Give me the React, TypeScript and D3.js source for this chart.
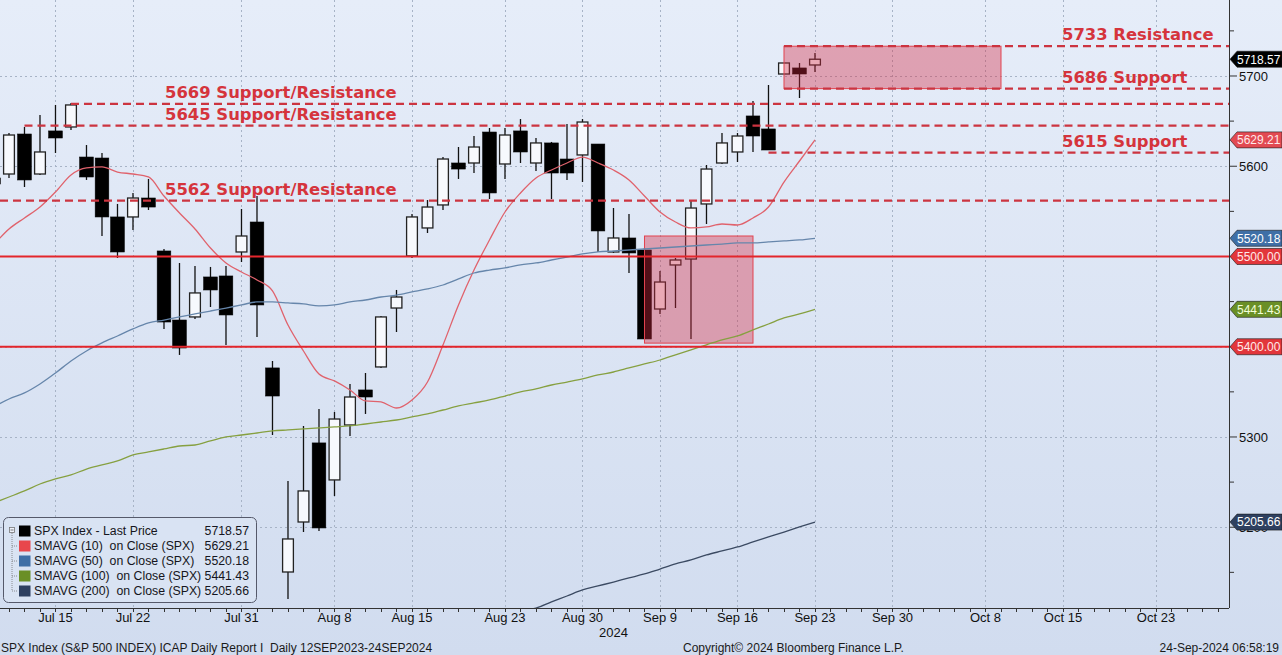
import React from "react";
import * as d3 from "d3";

// ---------- DATA ----------
const candleDates = [
  "2024-07-09","2024-07-10","2024-07-11","2024-07-12","2024-07-15","2024-07-16","2024-07-17","2024-07-18","2024-07-19",
  "2024-07-22","2024-07-23","2024-07-24","2024-07-25","2024-07-26","2024-07-29","2024-07-30","2024-07-31",
  "2024-08-01","2024-08-02","2024-08-05","2024-08-06","2024-08-07","2024-08-08","2024-08-09","2024-08-12",
  "2024-08-13","2024-08-14","2024-08-15","2024-08-16","2024-08-19","2024-08-20","2024-08-21","2024-08-22",
  "2024-08-23","2024-08-26","2024-08-27","2024-08-28","2024-08-29","2024-08-30","2024-09-03","2024-09-04",
  "2024-09-05","2024-09-06","2024-09-09","2024-09-10","2024-09-11","2024-09-12","2024-09-13","2024-09-16",
  "2024-09-17","2024-09-18","2024-09-19","2024-09-20","2024-09-23",
];
const opens = [
  5587.0,5591.4,5635.7,5591.4,5639.1,5643.5,5610.2,5609.1,5543.8,5543.8,5564.8,5506.1,5429.6,5433.0,5477.3,5478.4,5505.0,
  5538.2,5376.5,5150.4,5205.8,5293.4,5252.4,5313.3,5352.1,5377.6,5442.9,5500.6,5531.6,5557.1,5603.6,5603.6,5637.9,
  5602.5,5639.1,5603.6,5625.8,5608.0,5612.5,5624.6,5505.0,5520.5,5507.2,5441.8,5490.6,5497.2,5558.2,5603.6,5615.8,
  5655.7,5641.3,5702.2,5708.9,5712.2,
];
const highs = [
  5590.3,5636.8,5643.5,5656.8,5667.9,5670.1,5623.5,5614.7,5558.2,5570.4,5585.9,5508.3,5492.8,5489.5,5488.4,5489.5,5552.6,
  5567.0,5384.2,5251.2,5312.2,5331.0,5327.7,5358.7,5370.9,5434.1,5462.9,5547.1,5562.6,5610.2,5621.3,5633.5,5642.4,
  5642.4,5652.3,5631.3,5626.9,5646.8,5652.3,5624.6,5553.7,5547.1,5509.4,5483.9,5498.3,5561.5,5601.4,5636.8,5636.8,
  5672.3,5690.0,5714.4,5714.4,5725.5,
];
const lows = [
  5577.0,5587.0,5577.0,5590.3,5614.7,5640.2,5584.8,5522.7,5498.3,5529.4,5551.5,5419.7,5390.9,5430.7,5444.0,5401.9,5493.9,
  5410.8,5302.2,5120.5,5194.7,5195.9,5234.6,5301.1,5325.5,5376.5,5416.3,5498.3,5526.0,5551.5,5585.9,5592.5,5563.7,
  5585.9,5603.6,5594.7,5563.7,5584.8,5582.5,5505.0,5503.9,5481.7,5408.6,5436.3,5442.9,5408.6,5536.0,5602.5,5604.7,
  5615.8,5618.0,5702.2,5675.6,5704.4,
];
const closes = [
  5580.3,5634.6,5584.8,5615.8,5631.3,5667.9,5588.1,5543.8,5505.0,5564.8,5554.8,5427.4,5398.6,5459.6,5462.9,5435.2,5522.7,
  5446.3,5345.4,5187.0,5240.2,5199.2,5319.9,5344.3,5344.3,5433.0,5455.1,5543.8,5554.8,5608.0,5596.9,5621.3,5570.4,
  5634.6,5615.8,5625.8,5592.5,5592.5,5649.0,5528.3,5520.5,5503.9,5408.6,5471.7,5496.1,5553.7,5596.9,5625.8,5633.5,
  5633.5,5618.0,5714.4,5702.2,5718.57,
];
const sma10 = [
  5512.7,5530.5,5542.7,5554.8,5571.5,5590.3,5598.1,5599.2,5593.6,5591.4,5588.1,5567.0,5548.2,5530.5,5509.4,5492.8,5482.8,
  5474.0,5461.8,5424.1,5395.3,5369.8,5362.1,5352.1,5339.9,5338.8,5332.1,5341.0,5360.9,5401.9,5446.3,5485.0,5518.3,
  5549.3,5570.4,5587.0,5595.8,5603.6,5610.2,5603.6,5595.8,5584.8,5567.0,5549.3,5538.2,5531.6,5532.7,5536.0,5534.9,
  5542.7,5554.8,5582.5,5605.8,5629.21,
];
const sma50 = [
  5333.2,5342.1,5348.8,5358.7,5370.9,5384.2,5395.3,5404.2,5411.9,5419.7,5426.3,5429.6,5433.0,5436.3,5439.6,5442.9,5446.3,
  5449.6,5449.6,5448.5,5447.4,5445.2,5446.3,5449.6,5451.8,5455.1,5457.3,5460.7,5464.0,5468.4,5475.1,5481.7,5485.0,
  5487.3,5490.6,5492.8,5496.1,5499.4,5502.8,5505.0,5506.1,5507.2,5508.3,5509.4,5510.5,5511.6,5512.7,5513.8,5515.0,
  5515.0,5516.1,5517.2,5518.3,5520.18,
];
const sma100 = [
  5226.9,5233.5,5240.2,5247.9,5253.5,5257.9,5264.5,5269.0,5273.4,5280.1,5283.4,5286.7,5290.0,5291.1,5295.6,5300.0,5302.2,
  5304.4,5306.7,5307.8,5308.9,5310.0,5311.1,5312.2,5314.4,5316.6,5318.8,5322.2,5325.5,5329.9,5334.4,5337.7,5341.0,
  5345.4,5349.9,5353.2,5357.6,5360.9,5364.3,5368.7,5372.0,5376.5,5380.9,5385.3,5391.0,5396.6,5402.1,5407.7,5411.9,
  5418.6,5425.2,5431.9,5436.3,5441.43,
];
const sma200Start = "2024-08-19";
const sma200 = [
  5088.4,5091.7,5095.0,5099.5,5102.8,5107.2,5110.5,5117.2,5123.8,5130.5,5134.9,5139.3,5143.8,5148.2,5153.7,5159.3,5163.7,
  5169.3,5173.7,5178.1,5183.7,5189.2,5194.7,5200.3,5205.66,
];
const holidays = ["2024-09-02"];
const tickDates = [
  "2024-07-15","2024-07-22","2024-07-31","2024-08-08","2024-08-15","2024-08-23","2024-08-30",
  "2024-09-09","2024-09-16","2024-09-23","2024-09-30","2024-10-08","2024-10-15","2024-10-23",
];
const yearLabel = "2024";
const yearLabelDate = "2024-09-04";
const yMajorTicks = [5200, 5300, 5400, 5500, 5600, 5700];
const yMinorTicks = [5150, 5250, 5350, 5450, 5550, 5650, 5750];
const solidLevels = [5500, 5400];
const dashedLevels = [5733, 5686, 5669, 5645, 5615, 5562];
const dashedStarts = ["2024-09-19", "2024-09-19", "2024-07-16", "2024-07-11", "2024-09-18", null];
const annotations = [
  { value: 5733, text: "5733 Resistance", side: "right" },
  { value: 5686, text: "5686 Support", side: "right" },
  { value: 5669, text: "5669 Support/Resistance", side: "left" },
  { value: 5645, text: "5645 Support/Resistance", side: "left" },
  { value: 5615, text: "5615 Support", side: "right" },
  { value: 5562, text: "5562 Support/Resistance", side: "left" },
];
const zoneFrom = ["2024-09-19", "2024-09-06"];
const zoneTo = ["2024-10-09", "2024-09-17"];
const zoneHi = [5733, 5522.7];
const zoneLo = [5686, 5404];
const seriesNames = [
  "SPX Index - Last Price",
  "SMAVG (10)  on Close (SPX)",
  "SMAVG (50)  on Close (SPX)",
  "SMAVG (100)  on Close (SPX)",
  "SMAVG (200)  on Close (SPX)",
];
const seriesColors = ["#000000", "#e8474c", "#3f6fa6", "#6a8f26", "#2e4060"];
const lineColors = ["#000000", "#e0626c", "#6686ab", "#86a040", "#3b4a62"];
const footerLeft = "SPX Index (S&P 500 INDEX) ICAP Daily Report I  Daily 12SEP2023-24SEP2024";
const footerMid = "Copyright\u00A9 2024 Bloomberg Finance L.P.";
const footerRight = "24-Sep-2024 06:58:19";

// ---------- COMPONENT ----------
export default function App() {
  const W = 1282, H = 655;
  const plotR = 1229, plotB = 608;
  const parse = d3.timeParse("%Y-%m-%d");
  const fmt = d3.timeFormat("%Y-%m-%d");
  const label = d3.timeFormat("%b %-d");
  const calendar = d3.timeDay
    .range(parse("2024-07-09") as Date, parse("2024-11-05") as Date)
    .filter((d) => d.getDay() !== 0 && d.getDay() !== 6 && !holidays.includes(fmt(d)))
    .map((d) => fmt(d));
  const idx = (s: string) => calendar.indexOf(s);

  const x = d3.scaleLinear().domain([0.42, 79.71]).range([0, plotR]);
  const y = d3.scaleLinear().domain([5110.5, 5784.2]).range([plotB, 0]);
  const xd = (s: string) => x(idx(s));

  const line = d3
    .line<[number, number]>()
    .x((d) => x(d[0]))
    .y((d) => y(d[1]))
    .curve(d3.curveMonotoneX);

  const s200Start = idx(sma200Start);
  const lines = [
    sma10.map((v, i) => [idx(candleDates[i]), v] as [number, number]),
    sma50.map((v, i) => [idx(candleDates[i]), v] as [number, number]),
    sma100.map((v, i) => [idx(candleDates[i]), v] as [number, number]),
    sma200.map((v, i) => [s200Start + i, v] as [number, number]),
  ];

  const dayTicks = calendar.map((_, i) => i).filter((i) => x(i) >= 0 && x(i) <= plotR);

  const last = closes.length - 1;
  const badges = [
    { v: closes[last], c: "#000000", t: "#ffffff" },
    { v: sma10[last], c: "#e24a52", t: "#ffe9ea" },
    { v: sma50[last], c: "#3f6fa6", t: "#ffffff" },
    { v: solidLevels[0], c: "#e2363b", t: "#ffe9ea" },
    { v: sma100[last], c: "#6a8f26", t: "#f2ffd8" },
    { v: solidLevels[1], c: "#e2363b", t: "#ffe9ea" },
    { v: sma200[sma200.length - 1], c: "#2e4060", t: "#ffffff" },
  ];
  const legendValues = [closes[last], sma10[last], sma50[last], sma100[last], sma200[sma200.length - 1]];
  // tick labels fully hidden by a value badge are not drawn
  const visibleMajor = yMajorTicks.filter((v) => !badges.some((b) => Math.abs(y(b.v) - y(v)) < 3));

  const axisFont = "'Liberation Sans', Arial, sans-serif";
  const annFont = "'DejaVu Sans', Verdana, sans-serif";

  return (
    <svg
      width={W}
      height={H}
      viewBox={`0 0 ${W} ${H}`}
      style={{ position: "absolute", left: 0, top: 0, display: "block" }}
    >
      <defs>
        <linearGradient id="bg" x1="0" y1="0" x2="0" y2="1">
          <stop offset="0" stopColor="#e6edf9" />
          <stop offset="1" stopColor="#d1dcef" />
        </linearGradient>
        <clipPath id="plot">
          <rect x={0} y={0} width={plotR} height={plotB} />
        </clipPath>
      </defs>
      <rect x={0} y={0} width={W} height={H} fill="url(#bg)" />

      {/* grid */}
      <g stroke="#a7b3c6" strokeWidth={1} strokeDasharray="2 3">
        {yMajorTicks.map((v) => (
          <line key={v} x1={0} x2={plotR} y1={Math.round(y(v)) + 0.5} y2={Math.round(y(v)) + 0.5} />
        ))}
        {tickDates.map((d) => (
          <line key={d} x1={Math.round(xd(d)) + 0.5} x2={Math.round(xd(d)) + 0.5} y1={0} y2={plotB} />
        ))}
      </g>

      <g clipPath="url(#plot)">
        {/* candles */}
        {candleDates.map((d, i) => {
          const cx = xd(d);
          const up = closes[i] >= opens[i];
          const top = y(Math.max(opens[i], closes[i]));
          const bot = y(Math.min(opens[i], closes[i]));
          const bw = up ? 10.8 : 13.6;
          return (
            <g key={d}>
              <line x1={cx} x2={cx} y1={y(highs[i])} y2={y(lows[i])} stroke="#111" strokeWidth={1.3} />
              <rect
                x={cx - bw / 2}
                y={top}
                width={bw}
                height={Math.max(bot - top, 1.5)}
                fill={up ? "#f7f9fd" : "#000"}
                stroke={up ? "#222" : "#000"}
                strokeWidth={up ? 1.3 : 0.6}
              />
            </g>
          );
        })}

        {/* zones */}
        {zoneFrom.map((f, i) => (
          <rect
            key={f}
            x={xd(f)}
            y={y(zoneHi[i])}
            width={xd(zoneTo[i]) - xd(f)}
            height={y(zoneLo[i]) - y(zoneHi[i])}
            fill="rgb(212,40,62)"
            fillOpacity={0.38}
            stroke="#e2434f"
            strokeWidth={1}
          />
        ))}

        {/* moving averages */}
        {lines.map((pts, i) => (
          <path key={i} d={line(pts) || ""} fill="none" stroke={lineColors[i + 1]} strokeWidth={1.3} />
        ))}

        {/* solid levels */}
        {solidLevels.map((v) => (
          <line key={v} x1={0} x2={plotR} y1={y(v)} y2={y(v)} stroke="#e3262c" strokeWidth={2} />
        ))}

        {/* dashed levels */}
        {dashedLevels.map((v, i) => (
          <line
            key={v}
            x1={dashedStarts[i] ? xd(dashedStarts[i] as string) : 0}
            x2={plotR}
            y1={y(v)}
            y2={y(v)}
            stroke="#cc3440"
            strokeWidth={2.2}
            strokeDasharray="8 5"
          />
        ))}
      </g>

      {/* annotations */}
      {annotations.map((a) => (
        <text
          key={a.text}
          x={a.side === "left" ? 165 : 1062}
          y={y(a.value) - 6}
          fontFamily={annFont}
          fontWeight="bold"
          fontSize={16.4}
          fill="#d5343c"
        >
          {a.text}
        </text>
      ))}

      {/* axes */}
      <line x1={0} x2={plotR} y1={plotB + 0.5} y2={plotB + 0.5} stroke="#333" strokeWidth={1} />
      <line x1={plotR + 0.5} x2={plotR + 0.5} y1={0} y2={plotB} stroke="#333" strokeWidth={1} />
      {dayTicks.map((i) => (
        <line key={i} x1={Math.round(x(i)) + 0.5} x2={Math.round(x(i)) + 0.5} y1={plotB} y2={plotB + 4} stroke="#333" strokeWidth={1} />
      ))}
      {tickDates.map((d) => (
        <text key={d} x={xd(d)} y={622} textAnchor="middle" fontFamily={axisFont} fontSize={13} fill="#111">
          {label(parse(d) as Date)}
        </text>
      ))}
      <text x={xd(yearLabelDate)} y={637} textAnchor="middle" fontFamily={axisFont} fontSize={13} fill="#111">
        {yearLabel}
      </text>

      {yMinorTicks.map((v) => (
        <line key={v} x1={plotR} x2={plotR + 5} y1={y(v)} y2={y(v)} stroke="#333" strokeWidth={1} />
      ))}
      {yMajorTicks.map((v) => (
        <line key={v} x1={plotR} x2={plotR + 8} y1={y(v)} y2={y(v)} stroke="#333" strokeWidth={1} />
      ))}
      {visibleMajor.map((v) => (
        <text key={v} x={1239} y={y(v)} dy="0.35em" fontFamily={axisFont} fontSize={13} fill="#111">
          {v}
        </text>
      ))}

      {/* value badges */}
      {badges.map((b, i) => {
        const yy = y(b.v);
        const h = 8;
        const p = `M${plotR + 1},${yy} L${plotR + 8},${yy - h} L${W},${yy - h} L${W},${yy + h} L${plotR + 8},${yy + h} Z`;
        return (
          <g key={i}>
            <path d={p} fill={b.c} stroke="#1a1a1a" strokeWidth={0.6} />
            <text x={1237} y={yy} dy="0.36em" fontFamily={axisFont} fontSize={12} fill={b.t}>
              {d3.format(".2f")(b.v)}
            </text>
          </g>
        );
      })}

      {/* legend */}
      <g>
        <rect x={3.5} y={517.5} width={253} height={85} rx={5} fill="#d9e3f3" stroke="#55596a" strokeWidth={1} />
        <rect x={9.5} y={527.5} width={5} height={5} fill="#eef2fa" stroke="#777" strokeWidth={0.8} />
        <line x1={10.5} x2={13.5} y1={530} y2={530} stroke="#555" strokeWidth={0.8} />
        <line x1={12} x2={12} y1={533} y2={591} stroke="#777" strokeWidth={0.8} strokeDasharray="1 1" />
        {seriesNames.map((n, i) => {
          const ry = 531 + i * 15;
          return (
            <g key={n}>
              {i > 0 && <line x1={12} x2={18} y1={ry} y2={ry} stroke="#777" strokeWidth={0.8} strokeDasharray="1 1" />}
              <rect x={19} y={ry - 5.5} width={11.5} height={11} fill={seriesColors[i]} />
              <text
                x={34}
                y={ry}
                dy="0.36em"
                fontFamily={axisFont}
                fontSize={12.3}
                fill="#151520"
                style={{ whiteSpace: "pre" }}
              >
                {n}
              </text>
              <text x={249} y={ry} dy="0.36em" textAnchor="end" fontFamily={axisFont} fontSize={12.3} fill="#151520">
                {d3.format(".2f")(legendValues[i])}
              </text>
            </g>
          );
        })}
      </g>

      {/* footer */}
      <text x={1} y={652} fontFamily={axisFont} fontSize={12} fill="#1a1a1a" style={{ whiteSpace: "pre" }}>
        {footerLeft}
      </text>
      <text x={683} y={652} fontFamily={axisFont} fontSize={12} fill="#1a1a1a">
        {footerMid}
      </text>
      <text x={1279} y={652} textAnchor="end" fontFamily={axisFont} fontSize={12} fill="#1a1a1a">
        {footerRight}
      </text>
    </svg>
  );
}
